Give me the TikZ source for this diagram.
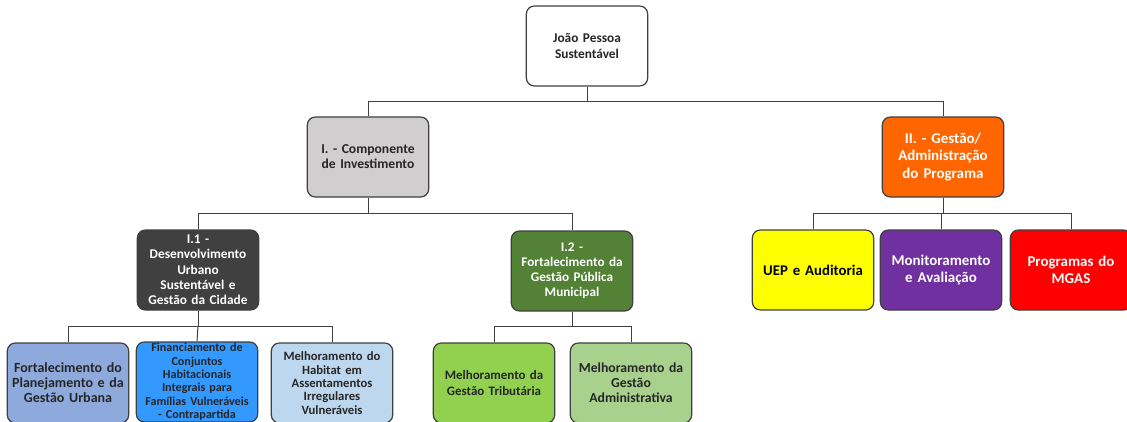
\documentclass[tikz,border=0pt]{standalone}
\usepackage{fontspec}
\setmainfont{Carlito}[BoldFont={Carlito Bold}]
\definecolor{bordc}{HTML}{3F3F3F}
\definecolor{linec}{HTML}{404040}
\definecolor{gI}{HTML}{D0CECE}
\definecolor{orII}{HTML}{FF6600}
\definecolor{dkI}{HTML}{404040}
\definecolor{grI}{HTML}{538135}
\definecolor{yel}{HTML}{FFFF00}
\definecolor{pur}{HTML}{7030A0}
\definecolor{rd}{HTML}{FF0000}
\definecolor{bA}{HTML}{8EA9DB}
\definecolor{bB}{HTML}{3399FF}
\definecolor{bC}{HTML}{BDD7EE}
\definecolor{gA}{HTML}{92D050}
\definecolor{gB}{HTML}{A9D18E}
\definecolor{txd}{HTML}{262626}
\begin{document}
\begin{tikzpicture}[x=0.75pt,y=-0.75pt,
  box/.style={draw=bordc,line width=0.9pt,rounded corners=6pt,minimum width=90pt,minimum height=60pt,
    inner sep=1pt,align=center,text width=89pt,font=\bfseries},
  conn/.style={draw=linec,line width=0.75pt}]
\useasboundingbox (0,0) rectangle (1127,421);
% level 0
\node[box,fill=white,text=txd,font=\bfseries\fontsize{10}{11.3}\selectfont] (root) at (587,46) {João Pessoa\\Sustentável};
% level 1
\node[box,fill=gI,text=txd,font=\bfseries\fontsize{10.2}{11.3}\selectfont] (I) at (368,157) {I. - Componente\\de Investimento};
\node[box,fill=orII,text=white,font=\bfseries\fontsize{11.2}{12.8}\selectfont] (II) at (943,157) {II. - Gestão/\\Administração\\do Programa};
% level 2
\node[box,fill=dkI,text=white,font=\bfseries\fontsize{10}{11.5}\selectfont] (I1) at (198,270) {I.1 -\\Desenvolvimento\\Urbano\\Sustentável e\\Gestão da Cidade};
\node[box,fill=grI,text=white,font=\bfseries\fontsize{9.9}{11.3}\selectfont] (I2) at (572,271) {I.2 -\\Fortalecimento da\\Gestão Pública\\Municipal};
\node[box,fill=yel,text=black,font=\bfseries\fontsize{11.1}{12.8}\selectfont] (uep) at (813,270) {UEP e Auditoria};
\node[box,fill=pur,text=white,font=\bfseries\fontsize{11.2}{12.8}\selectfont] (mon) at (941,270) {Monitoramento\\e Avaliação};
\node[box,fill=rd,text=white,font=\bfseries\fontsize{11.2}{12.8}\selectfont] (prog) at (1071,270) {Programas do\\MGAS};
% level 3
\node[box,fill=bA,text=txd,font=\bfseries\fontsize{10.5}{11.3}\selectfont] (b1) at (68,383) {Fortalecimento do\\Planejamento e da\\Gestão Urbana};
\node[box,fill=bB,text=txd,font=\bfseries\fontsize{9.1}{10}\selectfont] (b2) at (197,382) {Financiamento de\\Conjuntos\\Habitacionais\\Integrais para\\Famílias Vulneráveis\\- Contrapartida};
\node[box,fill=bC,text=txd,font=\bfseries\fontsize{9.5}{10}\selectfont] (b3) at (332,383) {Melhoramento do\\Habitat em\\Assentamentos\\Irregulares\\Vulneráveis};
\node[box,fill=gA,text=txd,font=\bfseries\fontsize{9.7}{12}\selectfont] (b4) at (494,383) {Melhoramento da\\Gestão Tributária};
\node[box,fill=gB,text=txd,font=\bfseries\fontsize{10.3}{11.3}\selectfont] (b5) at (631,383) {Melhoramento da\\Gestão\\Administrativa};
% bus coordinates
\coordinate (y0) at (0,101);
\coordinate (y1) at (0,213);
\coordinate (y2) at (0,326);
% connectors
\draw[conn] (root.south) -- (root.south |- y0) -| (I.north);
\draw[conn] (root.south |- y0) -| (II.north);
\draw[conn] (I.south) -- (I.south |- y1) -| (I1.north);
\draw[conn] (I.south |- y1) -| (I2.north);
\draw[conn] (II.south) -- (II.south |- y1) -| (uep.north);
\draw[conn] (II.south |- y1) -| (prog.north);
\draw[conn] (II.south |- y1) -- (mon.north |- y1) -- (mon.north);
\draw[conn] (I1.south) -- (I1.south |- y2) -| (b1.north);
\draw[conn] (I1.south |- y2) -| (b3.north);
\draw[conn] (I1.south |- y2) -- (b2.north);
\draw[conn] (I2.south) -- (I2.south |- y2) -| (b4.north);
\draw[conn] (I2.south |- y2) -| (b5.north);
\end{tikzpicture}
\end{document}
